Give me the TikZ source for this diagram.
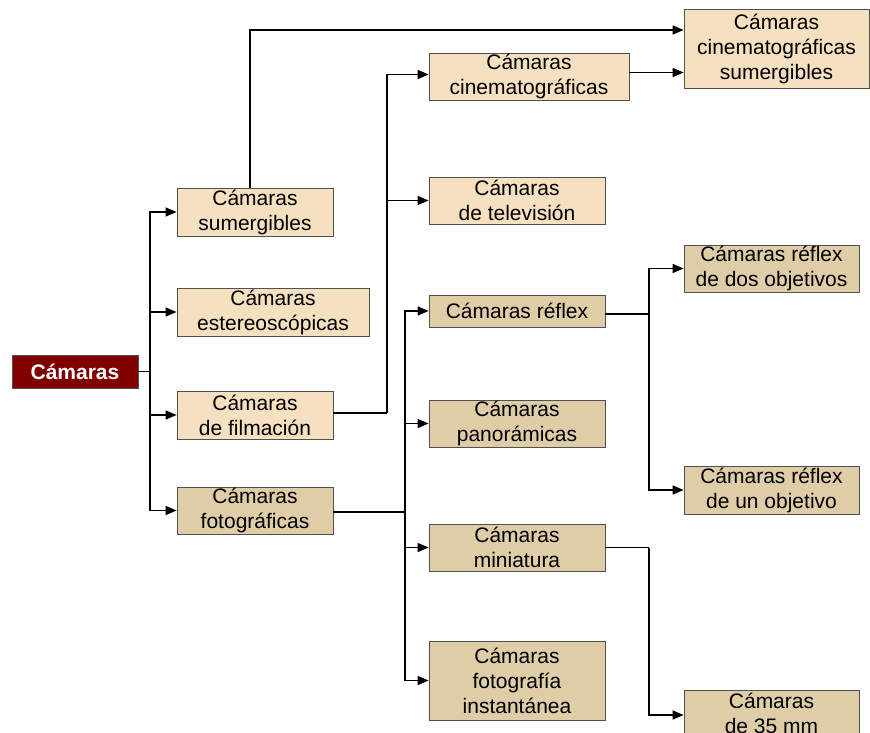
\documentclass[tikz,border=0pt]{standalone}
\usepackage{fontspec}
\setmainfont{Liberation Sans}
\usetikzlibrary{arrows.meta}
\definecolor{lighttan}{HTML}{F5E0C0}
\definecolor{darktan}{HTML}{DFCDA8}
\definecolor{rootred}{HTML}{800000}
\definecolor{bordergray}{HTML}{505050}
\tikzset{
  lt/.style={draw=bordergray, fill=lighttan, line width=0.8pt, align=center, inner sep=0pt,
             font=\fontsize{21}{25}\selectfont},
  dk/.style={lt, fill=darktan},
  rootbox/.style={lt, fill=rootred, text=white, font=\fontsize{21}{25}\selectfont\bfseries},
  ln/.style={line width=1.5pt, black},
  arr/.style={ln, -{Triangle[length=11pt,width=9pt]}}
}
\begin{document}
\begin{tikzpicture}[x=1pt,y=-1pt]
\useasboundingbox (0,0) rectangle (870,733);
\clip (0,0) rectangle (870,733);
% nodes
\node[rootbox, minimum width=126, minimum height=33] (root) at (75,371.5) {Cámaras};
\node[lt, minimum width=156, minimum height=48] (sum) at (255,212) {Cámaras\\sumergibles};
\node[lt, minimum width=192, minimum height=48] (est) at (273,312) {Cámaras\\estereoscópicas};
\node[lt, minimum width=156, minimum height=48] (fil) at (255,415) {Cámaras\\de filmación};
\node[dk, minimum width=156, minimum height=47] (fot) at (255,510.5) {Cámaras\\fotográficas};
\node[lt, minimum width=200, minimum height=47] (cin) at (529,76.5) {Cámaras\\cinematográficas};
\node[lt, minimum width=176, minimum height=47] (tel) at (517,200.5) {Cámaras\\de televisión};
\node[dk, minimum width=176, minimum height=32] (ref) at (517,311) {Cámaras réflex};
\node[dk, minimum width=176, minimum height=47] (pan) at (517,423.5) {Cámaras\\panorámicas};
\node[dk, minimum width=176, minimum height=47] (min) at (517,547.5) {Cámaras\\miniatura};
\node[dk, minimum width=176, minimum height=79] (ins) at (517,680.5) {Cámaras\\fotografía\\instantánea};
\node[lt, minimum width=185, minimum height=79] (cs) at (776.5,48.5) {Cámaras\\cinematográficas\\sumergibles};
\node[dk, minimum width=175, minimum height=47] (rd) at (771.5,268.5) {Cámaras réflex\\de dos objetivos};
\node[dk, minimum width=175, minimum height=48] (ru) at (771.5,490) {Cámaras réflex\\de un objetivo};
\node[dk, minimum width=175, minimum height=47] (mm) at (771.5,713.5) {Cámaras\\de 35 mm};
% trunk from root
\coordinate (t1) at (150,371.5);
\draw[ln] (root.east) -- (t1);
\draw[arr] (t1) |- (sum.west);
\draw[arr] (t1) |- (est.west);
\draw[arr] (t1) |- (fil.west);
\draw[arr] (t1) |- (fot.west);
% sumergibles to cine sumergibles
\draw[arr] ([xshift=-5pt]sum.north) |- ([yshift=18.5pt]cs.west);
% cinematograficas to cine sumergibles
\draw[arr] ([yshift=4pt]cin.east) -- ([yshift=4pt]cin.east -| cs.west);
% filmacion branch
\coordinate (t2) at (387,413);
\draw[ln] ([yshift=2pt]fil.east) -- (t2);
\draw[arr] (t2) |- ([yshift=2pt]cin.west);
\draw[arr] (t2) |- (tel.west);
% fotograficas branch
\coordinate (t3) at (405,512);
\draw[ln] ([yshift=-1.5pt]fot.east) -- (t3);
\draw[arr] (t3) |- (ref.west);
\draw[arr] (t3) |- (pan.west);
\draw[arr] (t3) |- (min.west);
\draw[arr] (t3) |- (ins.west);
% reflex branch
\coordinate (t4) at (649,314);
\draw[ln] ([yshift=-3pt]ref.east) -- (t4);
\draw[arr] (t4) |- (rd.west);
\draw[arr] (t4) |- (ru.west);
% miniatura branch
\coordinate (t5) at (649,547.5);
\draw[ln] (min.east) -- (t5);
\draw[arr] (t5) |- ([yshift=-1.5pt]mm.west);
\end{tikzpicture}
\end{document}
